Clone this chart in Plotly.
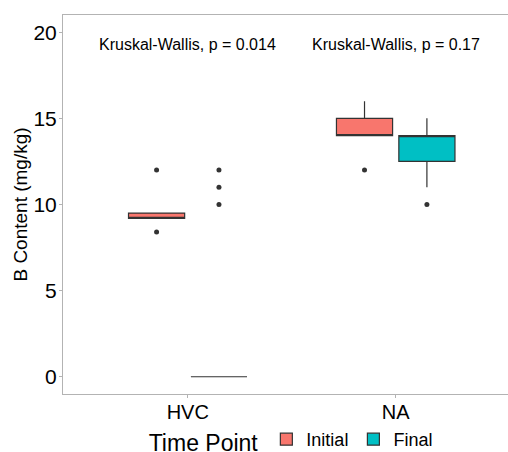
import plotly.graph_objects as go

# data
sites = ["HVC", "NA"]
time_points = ["Initial", "Final"]
colors = {"Initial": "#F8766D", "Final": "#00BFC4"}

hvc_initial = [8.4, 9.2, 9.2, 9.5, 12]
hvc_final = [0, 0, 0, 0, 0, 0, 0, 0, 0, 0, 10, 11, 12]
na_initial = [12, 14, 14, 15, 16]
na_final = [10, 11, 12.5, 13, 14, 14, 14, 14, 15]

values = {
    "Initial": {"HVC": hvc_initial, "NA": na_initial},
    "Final": {"HVC": hvc_final, "NA": na_final},
}

kw_labels = ["Kruskal-Wallis, p = 0.014", "Kruskal-Wallis, p = 0.17"]
label_y = 19.3

FONT = "Liberation Sans, Arial, sans-serif"

fig = go.Figure()
for tp in time_points:
    xs, ys = [], []
    for s in sites:
        xs += [s] * len(values[tp][s])
        ys += values[tp][s]
    fig.add_trace(go.Box(
        x=xs, y=ys, name=tp,
        fillcolor=colors[tp],
        line=dict(color="#333333", width=1.2),
        marker=dict(color="#333333", size=5),
        boxpoints="outliers", pointpos=0, jitter=0,
        whiskerwidth=0, quartilemethod="inclusive",
    ))

for s, txt in zip(sites, kw_labels):
    fig.add_annotation(x=s, y=label_y, text=txt, showarrow=False,
                       font=dict(size=16, color="black", family=FONT))

fig.update_layout(
    width=508, height=452,
    margin=dict(l=63, r=0, t=15, b=58, autoexpand=False),
    paper_bgcolor="white", plot_bgcolor="white",
    font=dict(family=FONT, color="black"),
    boxmode="group", boxgap=0.4, boxgroupgap=0.1,
    hovermode=False,
    legend=dict(
        orientation="h", x=0.515, xanchor="center", y=-0.124, yanchor="middle",
        title=dict(text="Time Point", font=dict(size=23), side="left"),
        font=dict(size=18),
    ),
)
fig.update_xaxes(
    type="category", categoryorder="array", categoryarray=sites,
    range=[-0.6, 1.54],
    showline=True, linecolor="#b3b3b3", linewidth=1, mirror=True,
    ticks="outside", ticklen=3, tickcolor="#b3b3b3", ticklabelstandoff=-3,
    tickfont=dict(size=20, color="black"), showgrid=False, zeroline=False,
)
fig.update_yaxes(
    range=[-1, 21], tickvals=[0, 5, 10, 15, 20],
    showline=True, linecolor="#b3b3b3", linewidth=1,
    ticks="outside", ticklen=3, tickcolor="#b3b3b3", ticklabelstandoff=-2,
    tickfont=dict(size=21, color="black"), showgrid=False, zeroline=False,
    title=dict(text="B Content (mg/kg)", font=dict(size=19), standoff=0),
)

# drop the default body margin so the figure fills the window exactly
fig.write_html("out.html",
               config={"displayModeBar": False, "staticPlot": True},
               post_script="document.body.style.margin='0';"
                           "document.documentElement.style.overflow='hidden';"
                           "document.body.style.overflow='hidden';")
